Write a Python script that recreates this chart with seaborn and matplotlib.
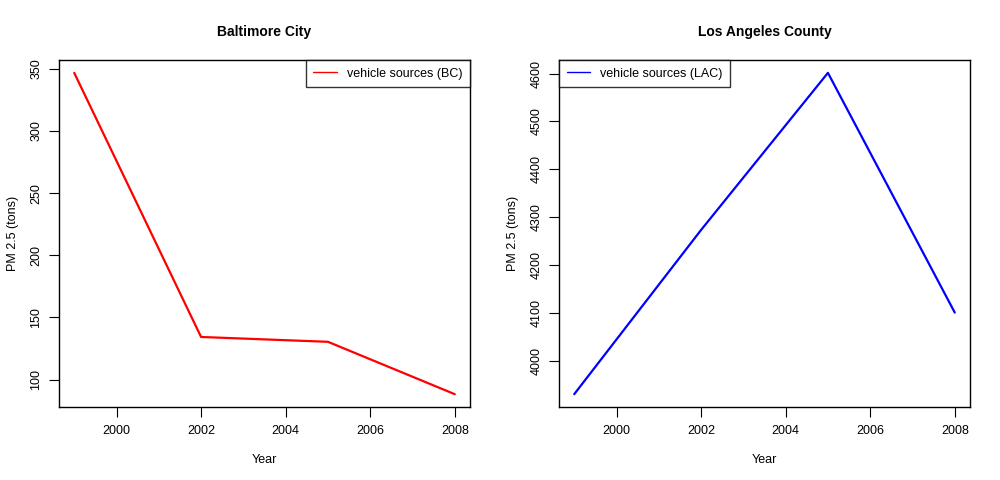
import matplotlib
matplotlib.use("Agg")
import matplotlib.pyplot as plt
import pandas as pd
import seaborn as sns
from matplotlib.lines import Line2D

YEARS = [1999, 2002, 2005, 2008]
BC_PM25 = [346.82, 134.31, 130.43, 88.28]
LAC_PM25 = [3931.12, 4273.71, 4601.41, 4101.32]
X_TICKS = [2000, 2002, 2004, 2006, 2008]
BC_YTICKS = [100, 150, 200, 250, 300, 350]
LAC_YTICKS = [4000, 4100, 4200, 4300, 4400, 4500, 4600]

sns.set_style("ticks")
plt.rcParams["font.family"] = ["Liberation Sans", "DejaVu Sans"]
plt.rcParams["text.color"] = "black"
plt.rcParams["axes.labelcolor"] = "black"
plt.rcParams["axes.linewidth"] = 1.0
plt.rcParams["xtick.major.size"] = 7
plt.rcParams["ytick.major.size"] = 7


def r_range(vals):
    # same 4% padding as R's default axis range
    lo, hi = min(vals), max(vals)
    pad = (hi - lo) * 0.04
    return lo - pad, hi + pad


def panel(ax, values, color, title, label, yticks, loc):
    df = pd.DataFrame({"year": YEARS, "pm": values})
    sns.lineplot(data=df, x="year", y="pm", ax=ax, color=color, linewidth=1.6, legend=False)
    ax.set_xlim(*r_range(YEARS))
    ax.set_ylim(*r_range(values))
    ax.set_xticks(X_TICKS)
    ax.set_yticks(yticks)
    ax.tick_params(labelsize=9, colors="black")
    ax.tick_params(axis="x", pad=6)
    ax.tick_params(axis="y", labelrotation=90, pad=5)
    for t in ax.get_yticklabels():
        t.set_verticalalignment("center")
    ax.set_xlabel("Year", fontsize=9, labelpad=12, color="black")
    ax.set_ylabel("PM 2.5 (tons)", fontsize=9, labelpad=8, color="black")
    ax.set_title(title, fontsize=10, fontweight="bold", pad=17, color="black")
    for s in ax.spines.values():
        s.set_visible(True)
        s.set_color("black")
    handle = Line2D([], [], color=color, linewidth=1)
    leg = ax.legend([handle], [label], loc=loc, fontsize=9, frameon=True,
                    fancybox=False, borderaxespad=0, handlelength=1.9,
                    borderpad=0.6, handletextpad=0.8, labelcolor="black")
    leg.get_frame().set_edgecolor("black")
    leg.get_frame().set_linewidth(1.0)


fig = plt.figure(figsize=(10, 4.8), dpi=100)
ax1 = fig.add_axes([0.059, 0.152, 0.411, 0.723])
ax2 = fig.add_axes([0.559, 0.152, 0.411, 0.723])
panel(ax1, BC_PM25, "red", "Baltimore City", "vehicle sources (BC)", BC_YTICKS, "upper right")
panel(ax2, LAC_PM25, "blue", "Los Angeles County", "vehicle sources (LAC)", LAC_YTICKS, "upper left")
fig.savefig("out.png", dpi=100)
